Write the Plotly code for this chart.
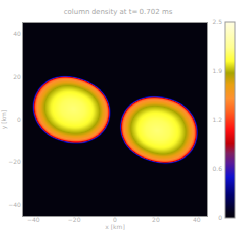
import numpy as np
import plotly.graph_objects as go

# ---- data ----
title_text = "column density at t= 0.702 ms"
x_ticks = [-40, -20, 0, 20, 40]
y_ticks = [-40, -20, 0, 20, 40]
cbar_tickvals = [0, 0.62, 1.25, 1.88, 2.5]
cbar_ticktext = ["0", "0.6", "1.2", "1.9", "2.5"]
zmax = 2.5

# blob centres (km)
blob_cx = [-20.5, 20.5]
blob_cy = [5.0, -5.0]
# edge radius of the left blob (km) at angles 0,45,...,315 deg
edge_angles_deg = [0, 45, 90, 135, 180, 225, 270, 315]
edge_radii_left = [19.2, 14.4, 15.6, 18.8, 19.0, 18.0, 15.8, 17.2]
# radial profile (fraction of edge radius -> value)
prof_rho = [0.0, 0.3, 0.55, 0.7, 0.8, 0.88, 0.93, 0.955, 0.975, 0.99, 1.005, 1.02]
prof_val = [2.13, 2.08, 1.98, 1.86, 1.70, 1.55, 1.40, 1.12, 0.8, 0.5, 0.22, 0.0]

# ---- build field ----
ang = np.deg2rad(edge_angles_deg)
def design(t):
    cols = [np.ones_like(t)]
    for k in (1, 2):
        cols += [np.cos(k * t), np.sin(k * t)]
    return np.stack(cols, axis=-1)
coef, *_ = np.linalg.lstsq(design(ang), np.array(edge_radii_left), rcond=None)
def edge_r(t):
    return design(t) @ coef

gx = np.linspace(-45, 45, 361)
gy = np.linspace(-45, 45, 361)
X, Y = np.meshgrid(gx, gy)
Z = np.zeros_like(X)
for i, (cx, cy) in enumerate(zip(blob_cx, blob_cy)):
    dx, dy = X - cx, Y - cy
    th = np.arctan2(dy, dx)
    if i == 1:
        th = th + np.pi
    rho = np.hypot(dx, dy) / edge_r(th)
    Z = np.maximum(Z, np.interp(rho, prof_rho, prof_val))

colorscale = [
    [0.0, "#03020d"], [0.03, "#04031a"], [0.12, "#000070"], [0.21, "#1010d0"],
    [0.28, "#5a1a98"], [0.33, "#802060"], [0.38, "#c00008"], [0.45, "#ff1010"],
    [0.54, "#ff6020"], [0.61, "#ff9030"], [0.68, "#e8a010"], [0.74, "#a8a400"],
    [0.80, "#ffff30"], [0.87, "#ffff90"], [1.0, "#fffde2"],
]

W = H = 242
fig = go.Figure()
fig.add_trace(go.Heatmap(
    x=gx, y=gy, z=Z, zmin=0, zmax=zmax, colorscale=colorscale,
    zsmooth="best", hoverinfo="skip",
    colorbar=dict(x=225 / W, xanchor="left", xpad=0, ypad=0, thickness=10,
                  thicknessmode="pixels", len=196, lenmode="pixels",
                  y=1 - 120 / H, yanchor="middle",
                  showticklabels=False, ticks="", outlinecolor="#999999",
                  outlinewidth=1),
))
# invisible trace to carry the colour-bar label axis
fig.add_trace(go.Scatter(x=[None], y=[None], xaxis="x2", yaxis="y2",
                         showlegend=False, hoverinfo="skip"))

tickfont = dict(family="DejaVu Sans", size=6, color="#b0b0b0")
fig.update_layout(
    width=W, height=H, margin=dict(l=0, r=0, t=0, b=0, autoexpand=False),
    paper_bgcolor="white", plot_bgcolor="rgba(0,0,0,0)",
    showlegend=False,
    title=dict(text=title_text, x=118 / W, xanchor="center", y=1 - 12 / H,
               yanchor="middle", font=dict(family="DejaVu Sans", size=7,
                                           color="#a8a8a8")),
    xaxis=dict(domain=[23 / W, 207 / W], range=[-45, 45], tickvals=x_ticks,
               ticks="", showgrid=False, zeroline=False, tickfont=tickfont,
               ticklabelstandoff=-2, automargin=False,
               showline=True, linecolor="#999999", linewidth=1, mirror=True,
               title=dict(text="x [km]", font=tickfont, standoff=0)),
    yaxis=dict(domain=[1 - 216 / H, 1 - 23 / H], range=[-45, 45],
               tickvals=y_ticks, ticks="", showgrid=False, zeroline=False,
               tickfont=tickfont, showline=True, linecolor="#999999",
               linewidth=1, mirror=True, automargin=False,
               title=dict(text="y [km]", font=tickfont, standoff=2)),
    xaxis2=dict(domain=[223 / W, 224 / W], visible=False, anchor="y2"),
    yaxis2=dict(domain=[1 - 218 / H, 1 - 22 / H], range=[0, zmax],
                anchor="x2", side="left", automargin=False,
                tickvals=cbar_tickvals, ticktext=cbar_ticktext, ticks="",
                showgrid=False, zeroline=False, showline=False,
                tickfont=tickfont),
)
fig.write_html("out.html", config={"displayModeBar": False},
               post_script="document.body.style.margin='0';"
                           "document.body.style.overflow='hidden';")
